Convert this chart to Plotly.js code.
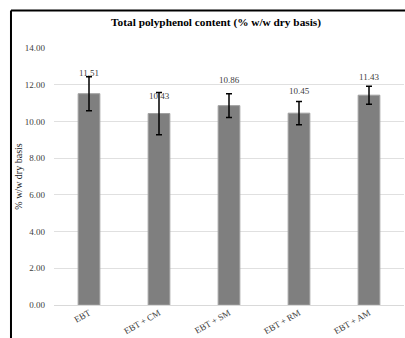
<!DOCTYPE html>
<html>
<head>
<meta charset="utf-8">
<script src="https://cdn.plot.ly/plotly-3.0.1.min.js"></script>
<style>
html,body{margin:0;padding:0;background:#fff;}
#chart{width:405px;height:338px;}
</style>
</head>
<body>
<div id="chart"></div>
<script>
const categories = ["EBT", "EBT + CM", "EBT + SM", "EBT + RM", "EBT + AM"];
const values = [11.51, 10.43, 10.86, 10.45, 11.43];
const errors = [0.93, 1.15, 0.65, 0.63, 0.49];
const valueLabels = ["11.51", "10.43", "10.86", "10.45", "11.43"];
const yTickVals = [0, 2, 4, 6, 8, 10, 12, 14];
const yTickText = ["0.00", "2.00", "4.00", "6.00", "8.00", "10.00", "12.00", "14.00"];

const serif = "Liberation Serif";
const labelShift = [21, 18, 26, 22, 18];

const trace = {
  type: "bar",
  x: categories,
  y: values,
  marker: {color: "#7f7f7f", line: {color: "#a0a0a0", width: 1}},
  error_y: {type: "data", array: errors, visible: true, color: "#000000", thickness: 1.5, width: 3},
  hoverinfo: "none"
};

const annotations = categories.map((c, i) => ({
  x: c, y: values[i], xref: "x", yref: "y",
  text: valueLabels[i], showarrow: false,
  yshift: labelShift[i],
  font: {family: serif, size: 9, color: "#404040"}
}));

const layout = {
  width: 405, height: 338,
  margin: {l: 54, r: 1, t: 48, b: 33},
  paper_bgcolor: "#ffffff",
  plot_bgcolor: "#ffffff",
  showlegend: false,
  bargap: 0.69,
  font: {family: serif},
  title: {
    text: "<b>Total polyphenol content (% w/w dry basis)</b>",
    font: {family: serif, size: 11.3, color: "#000000"},
    x: 0.463, xref: "paper", xanchor: "center",
    y: 0.935, yref: "container", yanchor: "middle"
  },
  xaxis: {
    tickangle: -30,
    tickfont: {family: serif, size: 9, color: "#404040"},
    showgrid: false, zeroline: false, showline: false,
    ticks: "", fixedrange: true
  },
  yaxis: {
    range: [0, 14],
    tickvals: yTickVals, ticktext: yTickText,
    tickfont: {family: serif, size: 9, color: "#404040"},
    ticklabelstandoff: 8,
    gridcolor: "#e0e0e0", gridwidth: 1,
    zeroline: true, zerolinecolor: "#d9d9d9", zerolinewidth: 1,
    showline: false, ticks: "", ticklen: 0,
    title: {text: "% w/w dry basis", font: {family: serif, size: 10, color: "#222222"}, standoff: 0}
  },
  annotations: annotations,
  shapes: [
    {type: "line", xref: "paper", yref: "paper", x0: -0.1229, x1: -0.1229, y0: -0.2, y1: 1.146, line: {color: "#000", width: 2}},
    {type: "line", xref: "paper", yref: "paper", x0: -0.1229, x1: 1.1, y0: 1.146, y1: 1.146, line: {color: "#000", width: 2}}
  ]
};

Plotly.newPlot("chart", [trace], layout, {displayModeBar: false, staticPlot: true});
</script>
</body>
</html>
